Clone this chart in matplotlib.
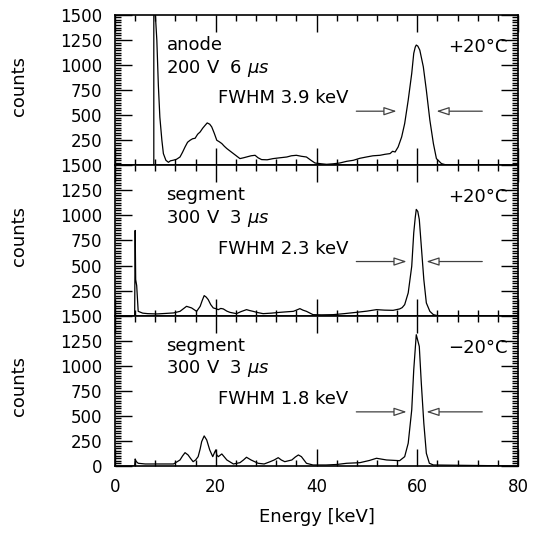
import matplotlib.pyplot as plt
from matplotlib.ticker import MultipleLocator

# anode, 200 V, 6 us, +20 C
anode_keV = [0, 7.7, 7.7, 7.95, 8.3, 8.6, 8.9, 9.3, 9.6, 10.1,
             10.6, 11.0, 11.5, 12.2, 12.9, 13.4, 13.9, 14.4, 14.9, 15.4,
             15.9, 16.4, 16.9, 17.4, 17.9, 18.3, 18.8, 19.2, 19.7, 20.2,
             20.7, 21.2, 21.7, 22.2, 22.9, 23.5, 24.2, 24.8, 25.5, 26.1,
             27.0, 27.8, 28.4, 29.1, 30.2, 31.4, 32.7, 34.1, 35.0, 36.0,
             37.0, 38.0, 38.9, 39.7, 41.0, 42.0, 43.3, 44.6, 46.0, 47.3,
             48.6, 49.9, 51.2, 52.6, 53.6, 54.6, 55.1, 55.6, 56.2, 56.9,
             57.5, 58.2, 58.9, 59.3, 59.6, 59.8, 60.1, 60.5, 61.2, 61.8,
             62.5, 63.2, 63.8, 64.8, 66.0, 80.0]
anode_cnt = [0, 0, 3000, 1550, 1250, 800, 480, 250, 117, 50,
             30, 45, 50, 60, 83, 130, 183, 230, 250, 265,
             270, 310, 333, 370, 400, 423, 410, 383, 320, 250,
             235, 217, 190, 167, 140, 117, 90, 67, 75, 83,
             95, 100, 75, 57, 55, 67, 75, 83, 95, 100,
             90, 83, 50, 23, 15, 10, 15, 23, 40, 50,
             70, 83, 95, 100, 110, 117, 140, 133, 183, 283,
             417, 650, 917, 1117, 1180, 1200, 1190, 1150, 983, 750,
             450, 217, 67, 17, 0, 0]

# segment, 300 V, 3 us, +20 C
seg1_keV = [0, 3.9, 4.0, 4.1, 4.3, 4.6, 5.5, 6.5, 8.3, 10.0,
            11.6, 12.9, 13.6, 14.2, 14.7, 15.2, 15.7, 16.2, 16.9, 17.3,
            17.7, 18.1, 18.5, 19.0, 19.5, 20.0, 20.5, 21.0, 21.5, 22.2,
            22.8, 24.1, 25.0, 26.1, 26.8, 27.4, 28.4, 29.4, 31.0, 32.7,
            34.0, 35.4, 36.0, 36.7, 37.3, 38.0, 39.3, 41.0, 43.3, 45.5,
            47.9, 50.0, 51.9, 53.5, 55.2, 56.5, 57.0, 57.5, 58.2, 58.9,
            59.3, 59.6, 59.8, 60.1, 60.4, 60.8, 61.3, 61.8, 62.5, 63.2,
            64.0, 80.0]
seg1_cnt = [0, 0, 850, 360, 300, 43, 25, 20, 17, 22,
            27, 43, 70, 93, 85, 77, 60, 43, 93, 150,
            200, 185, 160, 110, 77, 70, 60, 72, 67, 45,
            33, 20, 40, 60, 50, 43, 30, 20, 25, 33,
            38, 43, 55, 70, 55, 43, 10, 8, 10, 20,
            33, 45, 60, 55, 53, 67, 80, 110, 227, 493,
            827, 980, 1060, 1040, 960, 693, 360, 127, 43, 10,
            0, 0]

# segment, 300 V, 3 us, -20 C
seg2_keV = [0, 3.9, 4.0, 4.2, 4.6, 6.0, 8.0, 10.0, 11.6, 12.9,
            13.4, 13.9, 14.5, 15.0, 15.5, 16.0, 16.5, 16.9, 17.2, 17.7,
            18.2, 18.8, 19.4, 19.8, 20.0, 20.2, 20.5, 21.2, 21.7, 22.2,
            23.5, 24.8, 25.5, 26.1, 27.0, 28.4, 29.6, 30.8, 31.6, 32.4,
            33.0, 33.7, 35.1, 35.8, 36.4, 37.0, 38.0, 39.3, 41.9, 44.0,
            46.0, 48.6, 50.5, 51.9, 53.9, 56.5, 57.5, 58.2, 58.9, 59.3,
            59.8, 60.4, 60.8, 61.3, 61.8, 62.4, 63.2, 80.0]
seg2_cnt = [0, 0, 70, 45, 27, 20, 20, 20, 20, 60,
            100, 133, 110, 75, 43, 60, 93, 170, 243, 300,
            260, 160, 93, 140, 160, 110, 93, 120, 90, 60,
            20, 33, 60, 87, 60, 27, 20, 43, 60, 83,
            60, 43, 60, 90, 110, 93, 27, 10, 10, 15,
            27, 33, 55, 77, 60, 53, 93, 227, 560, 960,
            1310, 1193, 827, 427, 127, 27, 10, 0]

spectra = [(anode_keV, anode_cnt), (seg1_keV, seg1_cnt), (seg2_keV, seg2_cnt)]
det_labels = ['anode', 'segment', 'segment']
bias_labels = [r'200 V  6 $\mu s$', r'300 V  3 $\mu s$', r'300 V  3 $\mu s$']
fwhm_labels = ['FWHM 3.9 keV', 'FWHM 2.3 keV', 'FWHM 1.8 keV']
temp_labels = ['+20°C', '+20°C', '\u221220°C']
# FWHM arrow tips (left, right) in keV
arrow_tips = [(55.9, 63.8), (57.9, 61.8), (57.9, 61.8)]

plt.rcParams['font.family'] = 'DejaVu Sans'
plt.rcParams['mathtext.fontset'] = 'dejavusans'

fig, axes = plt.subplots(3, 1, sharex=True, figsize=(5.33, 5.35), dpi=100)
fig.subplots_adjust(left=0.2158, right=0.9719, top=0.972, bottom=0.129, hspace=0)

for i, ax in enumerate(axes):
    e, c = spectra[i]
    ax.plot(e, c, color='black', lw=0.9)
    ax.set_xlim(0, 80)
    ax.set_ylim(0, 1500)

    ax.xaxis.set_major_locator(MultipleLocator(20))
    ax.xaxis.set_minor_locator(MultipleLocator(4))
    if i < 2:
        ax.set_yticks([250, 500, 750, 1000, 1250, 1500])
    else:
        ax.set_yticks([0, 250, 500, 750, 1000, 1250, 1500])
    ax.yaxis.set_minor_locator(MultipleLocator(25))

    ax.tick_params(which='both', direction='in', top=True, right=True,
                   width=1.0, labelsize=12)
    ax.tick_params(which='major', length=12, pad=9)
    ax.tick_params(which='minor', length=4.5)
    for s in ax.spines.values():
        s.set_linewidth(1.2)

    ax.set_ylabel('counts', fontsize=13)
    ax.yaxis.set_label_coords(-0.215, 0.53)

    # annotations
    ax.text(10.2, 1200, det_labels[i], fontsize=13, va='center')
    ax.text(10.2, 970, bias_labels[i], fontsize=13, va='center')
    ax.text(20.5, 670, fwhm_labels[i], fontsize=13, va='center')
    ax.text(78, 1180, temp_labels[i], fontsize=13, va='center', ha='right')

    left_tip, right_tip = arrow_tips[i]
    ap = dict(arrowstyle='-|>,head_length=0.55,head_width=0.18', fc='white',
              ec='0.25', lw=0.9, mutation_scale=14, shrinkA=0, shrinkB=0)
    ax.annotate('', xy=(left_tip, 540), xytext=(47.9, 540), arrowprops=ap)
    ax.annotate('', xy=(right_tip, 540), xytext=(72.9, 540), arrowprops=ap)

axes[2].set_xlabel('Energy [keV]', fontsize=13, labelpad=8)

fig.savefig('out.png', dpi=100)
